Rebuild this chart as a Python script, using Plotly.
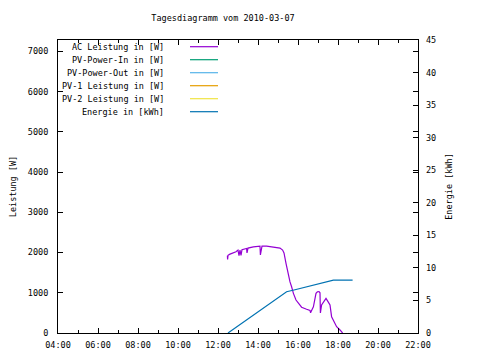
import plotly.graph_objects as go

# AC power [W] (hours as decimal)
ac_hours = [12.47, 12.48, 12.5, 12.6, 12.77, 12.9, 13.0, 13.05, 13.1, 13.15, 13.2, 13.43, 13.45, 13.5,
            13.77, 14.0, 14.05, 14.1, 14.12, 14.2, 14.43, 14.77, 15.1, 15.23, 15.3, 15.4, 15.47, 15.53,
            15.6, 15.68, 15.77, 15.9, 16.02, 16.18, 16.43, 16.6, 16.63, 16.65, 16.77, 16.9, 16.97, 17.05,
            17.1, 17.12, 17.18, 17.3, 17.4, 17.5, 17.6, 17.68, 17.77, 17.93, 18.1, 18.23]
ac_watts = [1920, 1830, 1930, 1960, 1990, 2020, 2060, 1920, 2060, 1930, 2070, 2100, 1990, 2110,
            2140, 2150, 2160, 2160, 1940, 2160, 2160, 2140, 2110, 2060, 1990, 1730, 1560, 1400,
            1270, 1150, 985, 820, 750, 640, 590, 560, 500, 530, 650, 985, 1025, 1030,
            1000, 500, 695, 780, 860, 780, 695, 405, 320, 155, 75, 0]

# Energy [kWh]
en_hours = [12.5, 13.0, 13.5, 14.0, 14.5, 15.0, 15.43, 15.8, 16.1, 16.45, 16.77, 17.1, 17.43, 17.77, 18.2, 18.73]
en_kwh = [0.0, 1.08, 2.16, 3.24, 4.32, 5.4, 6.33, 6.6, 6.85, 7.1, 7.36, 7.6, 7.87, 8.13, 8.13, 8.13]

legend_names = ["AC Leistung in [W]", "PV-Power-In in [W]", "PV-Power-Out in [W]",
                "PV-1 Leistung in [W]", "PV-2 Leistung in [W]", "Energie in [kWh]"]
legend_colors = ["#9400d3", "#009e73", "#56b4e9", "#e69f00", "#f0e442", "#0072b2"]

x_ticks = [4, 6, 8, 10, 12, 14, 16, 18, 20, 22]
x_labels = ["04:00", "06:00", "08:00", "10:00", "12:00", "14:00", "16:00", "18:00", "20:00", "22:00"]

FONT = "DejaVu Sans Mono"
FS = 8.5

fig = go.Figure()
fig.add_trace(go.Scatter(x=ac_hours, y=ac_watts, mode="lines",
                         line=dict(color=legend_colors[0], width=1.2), showlegend=False))
fig.add_trace(go.Scatter(x=en_hours, y=en_kwh, mode="lines", yaxis="y2",
                         line=dict(color=legend_colors[5], width=1.2), showlegend=False))

# page body has an 8px margin; figure is sized to fit the 480x360 window
OFF = 8
W, H = 480 - OFF, 360 - OFF
L, T = 58 - OFF, 40 - OFF
R, B = W - (418 - OFF), H - (333 - OFF)
pw, ph = 360, 293

def px(x):  # screen x -> paper
    return (x - 58) / pw

def py(y):  # screen y -> paper
    return (333 - y) / ph

annotations = []
shapes = []
for i, (name, col) in enumerate(zip(legend_names, legend_colors)):
    yy = 46.7 + 13 * i
    annotations.append(dict(x=px(166), y=py(yy), xref="paper", yref="paper", text=name,
                            showarrow=False, xanchor="right", yanchor="middle",
                            font=dict(family=FONT, size=FS, color="black")))
    shapes.append(dict(type="line", xref="paper", yref="paper", x0=px(190), x1=px(218),
                       y0=py(yy), y1=py(yy), line=dict(color=col, width=1.2)))

fig.update_layout(
    width=W, height=H,
    margin=dict(l=L, r=R, t=T, b=B),
    paper_bgcolor="white", plot_bgcolor="white",
    font=dict(family=FONT, size=FS, color="black"),
    title=dict(text="Tagesdiagramm vom 2010-03-07", x=(223 - OFF) / W, xanchor="center",
               y=1 - (18 - OFF) / H, yanchor="middle", font=dict(family=FONT, size=FS)),
    xaxis=dict(range=[4, 22], tickmode="array", tickvals=x_ticks, ticktext=x_labels,
               ticks="inside", ticklen=5, tickcolor="black", showgrid=False, zeroline=False,
               showline=True, linecolor="black", linewidth=1, mirror="ticks", automargin=False,
               minor=dict(dtick=1, ticks="inside", ticklen=3, tickcolor="black"),
               tickfont=dict(family=FONT, size=FS), ticklabelstandoff=4),
    yaxis=dict(range=[0, 7280], tickvals=[0, 1000, 2000, 3000, 4000, 5000, 6000, 7000],
               ticks="inside", ticklen=5, tickcolor="black", showgrid=False, zeroline=False,
               showline=True, linecolor="black", linewidth=1, mirror="ticks", automargin=False,
               title=dict(text="Leistung [W]", standoff=12, font=dict(family=FONT, size=FS)),
               tickfont=dict(family=FONT, size=FS), ticklabelstandoff=7),
    yaxis2=dict(range=[0, 45], tickvals=list(range(0, 50, 5)), overlaying="y", side="right",
                ticks="inside", ticklen=5, tickcolor="black", showgrid=False, zeroline=False,
                showline=False, automargin=False,
                title=dict(text="Energie [kWh]", standoff=10, font=dict(family=FONT, size=FS)),
                tickfont=dict(family=FONT, size=FS), ticklabelstandoff=7),
    annotations=annotations, shapes=shapes,
)

fig.write_html("out.html")
